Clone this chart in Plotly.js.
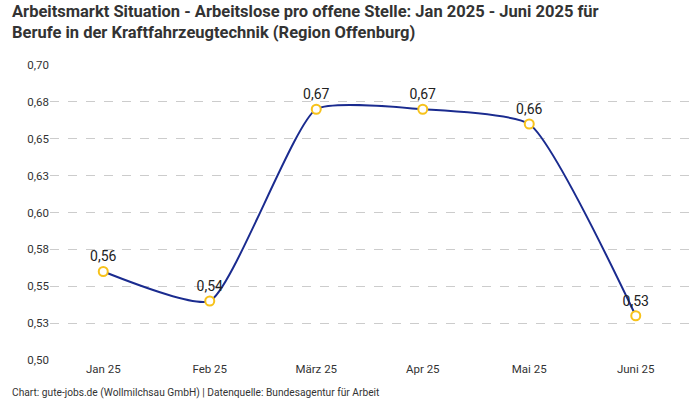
<!DOCTYPE html>
<html><head><meta charset="utf-8">
<script src="https://cdn.plot.ly/plotly-3.0.1.min.js"></script>
<style>html,body{margin:0;padding:0;background:#fff}#chart{width:700px;height:400px}</style>
</head><body><div id="chart"></div>
<script>
const months = ["Jan 25", "Feb 25", "März 25", "Apr 25", "Mai 25", "Juni 25"];
const ratio = [0.56, 0.54, 0.67, 0.67, 0.66, 0.53];
const ratioLabels = ["0,56", "0,54", "0,67", "0,67", "0,66", "0,53"];
const yTicks = [0.5, 0.525, 0.55, 0.575, 0.6, 0.625, 0.65, 0.675, 0.7];
const yTickLabels = ["0,50", "0,53", "0,55", "0,58", "0,60", "0,63", "0,65", "0,68", "0,70"];

const trace = {
  x: months, y: ratio, type: "scatter", mode: "lines+markers+text",
  line: {color: "#1a2b8f", width: 2, shape: "spline", smoothing: 0.5},
  marker: {symbol: "circle", size: 9, color: "#ffffff", line: {color: "#f7c21b", width: 2}},
  text: ratioLabels, textposition: "top center",
  textfont: {family: "Roboto, sans-serif", size: 14, color: "#222"},
  cliponaxis: false, hoverinfo: "skip"
};
const layout = {
  width: 700, height: 400,
  margin: {l: 50, r: 11, t: 65, b: 40},
  paper_bgcolor: "#fff", plot_bgcolor: "#fff",
  font: {family: "Roboto, sans-serif", color: "#333"},
  xaxis: {type: "category", range: [-0.5, 5.5], showgrid: false, zeroline: false, showline: false,
    ticks: "", tickfont: {size: 11.5, color: "#333"}},
  yaxis: {range: [0.5, 0.7], tickvals: yTicks, ticktext: yTickLabels, showgrid: true,
    gridcolor: "#cccccc", griddash: "dash", gridwidth: 1, zeroline: false, showline: false,
    ticks: "", tickfont: {size: 11.5, color: "#333"}},
  showlegend: false,
  annotations: [
    {text: "<b>Arbeitsmarkt Situation - Arbeitslose pro offene Stelle: Jan 2025 - Juni 2025 für<br>Berufe in der Kraftfahrzeugtechnik (Region Offenburg)</b>",
     xref: "paper", yref: "paper", x: -0.0626, y: 1.22, xanchor: "left", yanchor: "top", align: "left",
     showarrow: false, font: {family: "Roboto, sans-serif", size: 16.5, color: "#333"}},
    {text: "Chart: gute-jobs.de (Wollmilchsau GmbH) | Datenquelle: Bundesagentur für Arbeit",
     xref: "paper", yref: "paper", x: -0.0626, y: -0.112, xanchor: "left", yanchor: "middle",
     showarrow: false, font: {size: 10.2, color: "#333"}}
  ]
};
Plotly.newPlot("chart", [trace], layout, {displayModeBar: false, staticPlot: true});
</script></body></html>
